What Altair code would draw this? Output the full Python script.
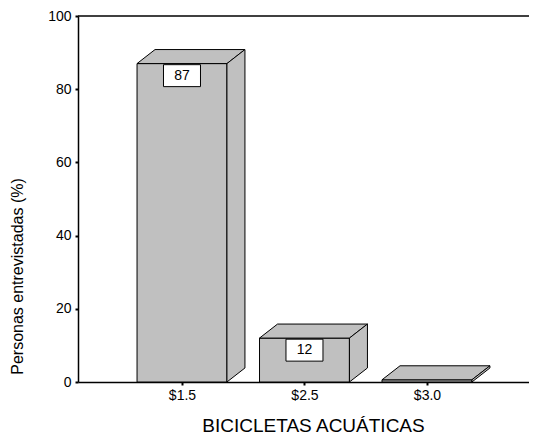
import json
import altair as alt
import pandas as pd

# ---- data ----
categories = ["$1.5", "$2.5", "$3.0"]
values = [87, 12, 0.6]
show_label = [True, True, False]
positions = [1, 2, 3]
y_ticks = [0, 20, 40, 60, 80, 100]

# ---- geometry (data units) ----
HALF = 0.367   # half bar width
DX = 0.147     # 3D depth, x
DY = 3.83      # 3D depth, y
BOX_HALF = 0.151
FONT = "Liberation Sans"
GRAY = "#c0c0c0"

front = pd.DataFrame({"cat": categories, "pos": positions, "val": values})
front["x0"] = front.pos - HALF
front["x1"] = front.pos + HALF
front["zero"] = 0.0

top_rows, side_rows, lab_rows = [], [], []
for c, p, v, s in zip(categories, positions, values, show_label):
    top_rows += [{"cat": c, "y": v, "xl": p - HALF, "xr": p + HALF},
                 {"cat": c, "y": v + DY, "xl": p - HALF + DX, "xr": p + HALF + DX}]
    side_rows += [{"cat": c, "x": p + HALF, "ylo": 0.0, "yhi": v},
                  {"cat": c, "x": p + HALF + DX, "ylo": DY, "yhi": v + DY}]
    if s:
        lab_rows.append({"cat": c, "pos": p, "txt": str(int(round(v))),
                         "bx0": p - BOX_HALF, "bx1": p + BOX_HALF,
                         "by0": v - 0.3, "by1": v - 6.3, "ty": v - 3.3})
top = pd.DataFrame(top_rows)
side = pd.DataFrame(side_rows)
labs = pd.DataFrame(lab_rows)

xscale = alt.Scale(domain=[0.151, 3.833], nice=False, zero=False)
yscale = alt.Scale(domain=[0, 100], nice=False, zero=True)

label_expr = "%s[datum.value - 1]" % json.dumps(categories)
xaxis = alt.Axis(values=positions, labelExpr=label_expr, grid=False,
                 tickSize=3, tickWidth=2, tickColor="black",
                 domainColor="black", domainWidth=1.5,
                 labelFont=FONT, labelFontSize=14, labelColor="black", labelPadding=3,
                 titleFont=FONT, titleFontSize=19, titleFontWeight="normal",
                 titleColor="black", titleY=43, titleX=235, titleBaseline="middle")
yaxis = alt.Axis(values=y_ticks, grid=False,
                 tickSize=3, tickWidth=2, tickColor="black",
                 domainColor="black", domainWidth=1.5,
                 labelFont=FONT, labelFontSize=14, labelColor="black", labelPadding=4,
                 titleFont=FONT, titleFontSize=16, titleFontWeight="normal",
                 titleColor="black", titleX=-61, titleY=260, titleAngle=270,
                 titleAlign="center", titleBaseline="middle")

XT = "BICICLETAS ACUÁTICAS"
YT = "Personas entrevistadas (%)"


def X(f):
    return alt.X(f, type="quantitative", scale=xscale, axis=xaxis, title=XT)


def Y(f):
    return alt.Y(f, type="quantitative", scale=yscale, axis=yaxis, title=YT)


front_layer = alt.Chart(front).mark_rect(fill=GRAY, stroke="black", strokeWidth=1).encode(
    x=X("x0"), x2="x1", y=Y("val"), y2="zero")

top_layer = alt.Chart(top).mark_area(fill=GRAY, stroke="black", strokeWidth=1,
                                     orient="horizontal", strokeJoin="miter").encode(
    y=Y("y"), x=X("xl"), x2="xr", detail="cat:N")

side_layer = alt.Chart(side).mark_area(fill=GRAY, stroke="black", strokeWidth=1,
                                       orient="vertical", strokeJoin="miter").encode(
    x=X("x"), y=Y("ylo"), y2="yhi", detail="cat:N")

top_rule = alt.Chart(pd.DataFrame({"v": [100]})).mark_rule(
    color="black", strokeWidth=1.5).encode(y=Y("v"))

box_layer = alt.Chart(labs).mark_rect(fill="white", stroke="black", strokeWidth=1).encode(
    x=X("bx0"), x2="bx1", y=Y("by0"), y2="by1")

text_layer = alt.Chart(labs).mark_text(font=FONT, fontSize=14, color="black",
                                       baseline="middle", align="center").encode(
    x=X("pos"), y=Y("ty"), text="txt:N")

chart = alt.layer(front_layer, top_layer, side_layer, top_rule, box_layer, text_layer).properties(
    width=451, height=366,
    autosize=alt.AutoSizeParams(type="none"),
    padding={"left": 70, "top": 8, "right": 0, "bottom": 54},
    background="white",
).configure_view(stroke="transparent")

chart.save("out.html", embed_options={"renderer": "svg", "actions": False})
